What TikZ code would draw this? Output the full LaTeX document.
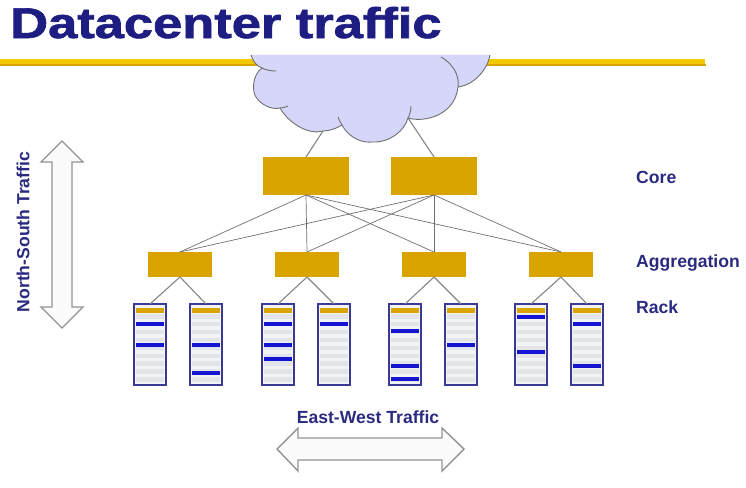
\documentclass[tikz,border=0pt]{standalone}
\usepackage{fontspec}
\setmainfont{Liberation Sans}
\definecolor{navy}{HTML}{2A2A80}
\definecolor{titleC}{HTML}{1E1E82}
\definecolor{gold}{HTML}{D9A300}
\definecolor{ruleY}{HTML}{F2C800}
\definecolor{cloudF}{HTML}{D5D6FA}
\definecolor{blueB}{HTML}{1414D2}
\definecolor{edgeG}{HTML}{707070}
\definecolor{rackB}{HTML}{3A3A96}
\definecolor{stripe}{HTML}{E3E4E8}
\tikzset{
 corebox/.style={fill=gold,draw=none,minimum width=86pt,minimum height=38pt,inner sep=0pt,outer sep=0pt},
 aggbox/.style={fill=gold,draw=none,minimum width=64pt,minimum height=25pt,inner sep=0pt,outer sep=0pt},
 rackbox/.style={draw=rackB,line width=1.7pt,fill=stripe!45,minimum width=32pt,minimum height=81pt,inner sep=0pt,outer sep=0pt},
 link/.style={draw=edgeG,line width=0.7pt},
 racklink/.style={draw=edgeG!85,line width=1.1pt},
 lab/.style={text=navy,font=\bfseries\fontsize{17.6}{20}\selectfont,inner sep=0pt},
 bigarrow/.style={draw=gray!85,line width=1.4pt,fill=white!97!gray,line join=miter},
}
\newcommand{\rack}[3]{% name, x-left, bars
 \node[rackbox,anchor=north west] (#1) at (#2,304) {};
 \foreach \s in {0,...,8}{\fill[stripe] (#2+2,314+\s*7.9) rectangle (#2+30,318.5+\s*7.9);}
 \fill[gold] (#2+2,308) rectangle (#2+30,312.5);
 \foreach \b in {#3}{\fill[blueB] (#2+2,\b-2) rectangle (#2+30,\b+2);}
}
\begin{document}
\begin{tikzpicture}[x=1pt,y=-1pt]
\useasboundingbox (0,0) rectangle (746,487);
\node[anchor=base west,text=titleC,xscale=1.22,font=\bfseries\fontsize{43}{45}\selectfont\addfontfeature{FakeBold=1.5},inner sep=0pt] (title) at (10,38) {Datacenter traffic};
\fill[ruleY] (0,59) rectangle (705,64);
\fill[gold] (0,64) rectangle (706,66);
% cloud
\path[fill=cloudF,draw=edgeG,line width=0.9pt] (251,55)
 .. controls (253,62) and (257,66) .. (262,68)
 .. controls (252,75) and (252,92) .. (256,97)
 .. controls (261,105) and (272,110) .. (280,108)
 .. controls (290,125) and (310,135) .. (323,131)
 .. controls (330,131) and (337,128) .. (342,125)
 .. controls (350,140) and (365,143) .. (372,142)
 .. controls (390,143) and (405,130) .. (408,118)
 .. controls (425,123) and (455,115) .. (458,87)
 .. controls (475,85) and (488,68) .. (490,55);
\draw[edgeG,line width=0.9pt] (262,68) .. controls (266,70) and (271,71) .. (276,71);
\draw[edgeG,line width=0.9pt] (280,108) .. controls (283,108) and (286,107) .. (288,106);
\draw[edgeG,line width=0.9pt] (342,125) .. controls (340,122) and (339,120) .. (338,117);
\draw[edgeG,line width=0.9pt] (408,118) .. controls (410,114) and (411,110) .. (411,106);
\draw[edgeG,line width=0.9pt] (458,87) .. controls (460,75) and (452,63) .. (441,57);
\coordinate (cloudL) at (323,131);
\coordinate (cloudR) at (408,118);
% core
\node[corebox,anchor=north west] (c1) at (263,157) {};
\node[corebox,anchor=north west] (c2) at (391,157) {};
\foreach \n/\x in {a1/148,a2/275,a3/402,a4/529}
  \node[aggbox,anchor=north west] (\n) at (\x,252) {};
\draw[racklink] (cloudL) -- (c1.north);
\draw[racklink] (cloudR) -- (c2.north);
\foreach \c in {c1,c2}\foreach \a in {a1,a2,a3,a4}\draw[link] (\c.south) -- (\a.north);
% racks
\rack{r1}{134}{324,345}
\rack{r2}{190}{345,373}
\rack{r3}{262}{324,345,359}
\rack{r4}{318}{324}
\rack{r5}{389}{331,366,379}
\rack{r6}{445}{345}
\rack{r7}{515}{317,352}
\rack{r8}{571}{324,366}
\foreach \a/\p/\q in {a1/r1/r2,a2/r3/r4,a3/r5/r6,a4/r7/r8}{
 \draw[racklink] (\a.south) -- (\p.north);
 \draw[racklink] (\a.south) -- (\q.north);
}
% labels
\node[lab,anchor=west] (lcore) at (636,177) {Core};
\node[lab,anchor=west] (lagg) at (636,263) {Aggregation};
\node[lab,anchor=west] (lrack) at (636,307) {Rack};
\node[lab,anchor=center] (lew) at (368,417) {East-West Traffic};
\node[lab,anchor=center,rotate=90] (lns) at (23,232) {North-South Traffic};
% arrows
\draw[bigarrow] (62,141) -- (83,162) -- (72,162) -- (72,307) -- (83,307) -- (62,328) -- (41,307) -- (52,307) -- (52,162) -- (41,162) -- cycle;
\draw[bigarrow] (277,449) -- (298,428) -- (298,438) -- (442,438) -- (442,428) -- (464,449) -- (442,471) -- (442,460) -- (298,460) -- (298,471) -- cycle;
\end{tikzpicture}
\end{document}
